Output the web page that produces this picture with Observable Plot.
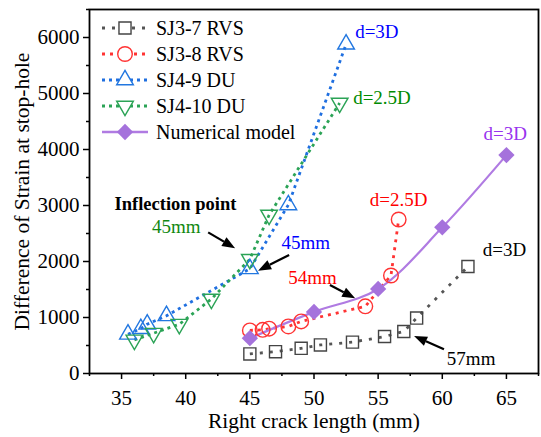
<!DOCTYPE html>
<html><head><meta charset="utf-8">
<script src="https://cdn.jsdelivr.net/npm/d3@7"></script>
<script src="https://cdn.jsdelivr.net/npm/@observablehq/plot@0.6"></script>
<style>
body{margin:0;background:#fff}
</style>
</head><body><div id="chart"></div>
<script>
// ---- data ----
const xTicks = [35, 40, 45, 50, 55, 60, 65];
const xMinor = [32.5, 37.5, 42.5, 47.5, 52.5, 57.5, 62.5, 67.5];
const yTicks = [0, 1000, 2000, 3000, 4000, 5000, 6000];
const yMinor = [500, 1500, 2500, 3500, 4500, 5500, 6500];

const seriesNames = ["SJ3-7 RVS", "SJ3-8 RVS", "SJ4-9 DU", "SJ4-10 DU", "Numerical model"];

const sj37x = [45, 47, 49, 50.5, 53, 55.5, 57, 58, 62];
const sj37y = [350, 390, 450, 510, 560, 660, 750, 990, 1910];

const sj38x = [45, 46, 46.5, 48, 49, 54, 56, 56.6];
const sj38y = [770, 780, 800, 840, 930, 1200, 1750, 2750];

const sj49x = [35.5, 36.5, 37, 38.5, 45, 48, 52.5];
const sj49y = [700, 800, 880, 1030, 1870, 3010, 5880];

const sj410x = [36, 37.5, 39.5, 42, 45, 46.5, 52];
const sj410y = [600, 720, 880, 1330, 2040, 2830, 4830];

const numx = [45, 50, 55, 60, 65];
const numy = [630, 1100, 1510, 2610, 3900];

const noteText  = ["d=3D", "d=2.5D", "d=3D", "d=2.5D", "d=3D", "45mm", "45mm", "54mm", "57mm"];
const noteX     = [54.9, 55.3, 64.9, 56.6, 64.85, 39.27, 49.36, 49.88, 62.25];
const noteY     = [6100, 4930, 4280, 3100, 2200, 2613, 2327, 1702, 262];
const noteColor = ["#0000ff", "#008a00", "#9933ee", "#ff0000", "#000000", "#118811", "#0000ff", "#ff0000", "#000000"];

const boldText = ["Inflection point"];
const boldX = [39.2];
const boldY = [3030];

const arrowX1 = [41.79, 48.1, 51.28, 60.17];
const arrowY1 = [2512, 2107, 1571, 423];
const arrowX2 = [43.89, 45.68, 53.25, 57.84];
const arrowY2 = [2227, 1827, 1334, 661];

// ---- styles ----
const FONT = "Liberation Serif";
const TICK_FS = 21;
const TITLE_FS = 21.5;
const styles = [
  {stroke: "#555555", mark: "#444444", dash: "3,7", symbol: "square", r: 6.8},
  {stroke: "#ff3333", mark: "#ff3333", dash: "3,5", symbol: "circle", r: 7.3},
  {stroke: "#1f6fe0", mark: "#2277e0", dash: "3,4", symbol: "triangle", r: 6.2},
  {stroke: "#2ba356", mark: "#2ba356", dash: "3,4", symbol: "triangle", r: 6.2, rotate: 180},
  {stroke: "#b07be2", mark: "#a572dc", dash: null, symbol: "square", r: 6.5, rotate: 45, fill: true}
];

const rows = (xs, ys) => xs.map((x, i) => ({x, y: ys[i]}));
const series = [rows(sj37x, sj37y), rows(sj38x, sj38y), rows(sj49x, sj49y), rows(sj410x, sj410y), rows(numx, numy)];
const notes = noteText.map((t, i) => ({t, x: noteX[i], y: noteY[i], c: noteColor[i]}));
const bolds = boldText.map((t, i) => ({t, x: boldX[i], y: boldY[i]}));
const arrows = arrowX1.map((x1, i) => ({x1, y1: arrowY1[i], x2: arrowX2[i], y2: arrowY2[i]}));

const marks = [];
series.forEach((d, i) => {
  const s = styles[i];
  marks.push(Plot.line(d, {x: "x", y: "y", stroke: s.stroke, strokeWidth: i === 4 ? 2.2 : 2.8,
    strokeDasharray: s.dash || undefined, strokeLinecap: "butt",
    curve: i === 4 ? "catmull-rom" : "linear"}));
});
series.forEach((d, i) => {
  const s = styles[i];
  marks.push(Plot.dot(d, {x: "x", y: "y", symbol: s.symbol, r: s.r, rotate: s.rotate || 0,
    stroke: s.fill ? "none" : s.mark, fill: s.fill ? s.mark : "none", strokeWidth: 1.4}));
});

const fmt = d => String(d);
marks.push(
  Plot.text(notes, {x: "x", y: "y", text: "t", fill: "c", fontSize: 19, fontFamily: FONT}),
  Plot.text(bolds, {x: "x", y: "y", text: "t", fill: "black", fontSize: 18.5, fontWeight: "bold", fontFamily: FONT}),
  Plot.axisX({ticks: xTicks, tickSize: 6, tickPadding: 11, fontSize: TICK_FS, fontFamily: FONT, strokeWidth: 1.5, label: null, tickFormat: fmt}),
  Plot.axisX({ticks: xMinor, tickSize: 3, strokeWidth: 1.5, label: null, tickFormat: () => ""}),
  Plot.axisY({ticks: yTicks, tickSize: 6, tickPadding: 4, fontSize: TICK_FS, fontFamily: FONT, strokeWidth: 1.5, label: null, tickFormat: fmt}),
  Plot.axisY({ticks: yMinor, tickSize: 3, strokeWidth: 1.5, label: null, tickFormat: () => ""}),
  Plot.frame({stroke: "black", strokeWidth: 1.8}),
  Plot.text(["Right crack length (mm)"], {frameAnchor: "bottom", dy: 48, lineAnchor: "middle", text: d => d, fontSize: TITLE_FS, fontFamily: FONT, fill: "black", textAnchor: "middle"}),
  Plot.text(["Difference of Strain at stop-hole"], {frameAnchor: "left", dx: -67, rotate: -90, lineAnchor: "middle", text: d => d, fontSize: TITLE_FS, fontFamily: FONT, fill: "black", textAnchor: "middle"})
);

const plot = Plot.plot({
  width: 541, height: 437,
  marginLeft: 89, marginRight: 3, marginTop: 9, marginBottom: 64,
  x: {domain: [32.5, 67.5]},
  y: {domain: [0, 6500]},
  style: {fontFamily: FONT, background: "white", overflow: "visible"},
  marks
});
document.getElementById("chart").appendChild(plot);

const svg = d3.select(plot);
svg.selectAll("text").attr("font-family", FONT).style("font-family", FONT);

// ---- arrows (filled heads) using the plot's scales ----
const sx = plot.scale("x"), sy = plot.scale("y");
const ga = svg.append("g");
arrows.forEach(a => {
  const x1 = sx.apply(a.x1), y1 = sy.apply(a.y1), x2 = sx.apply(a.x2), y2 = sy.apply(a.y2);
  const ang = Math.atan2(y2 - y1, x2 - x1);
  const L = 13, W = 5;
  const bx = x2 - L * Math.cos(ang), by = y2 - L * Math.sin(ang);
  ga.append("line").attr("x1", x1).attr("y1", y1).attr("x2", bx).attr("y2", by)
    .attr("stroke", "black").attr("stroke-width", 2.2);
  const px = -Math.sin(ang) * W, py = Math.cos(ang) * W;
  ga.append("path").attr("d", `M${x2},${y2}L${bx + px},${by + py}L${bx - px},${by - py}Z`).attr("fill", "black");
});

// ---- legend inside the frame ----
const lg = svg.append("g").attr("text-anchor", "start").attr("font-family", FONT);
const rowY = [28, 54, 80, 106, 132];
const symMap = {square: d3.symbolSquare, circle: d3.symbolCircle, triangle: d3.symbolTriangle};
seriesNames.forEach((name, i) => {
  const s = styles[i], y = rowY[i];
  lg.append("line").attr("x1", 102).attr("x2", 148).attr("y1", y).attr("y2", y)
    .attr("stroke", s.stroke).attr("stroke-width", i === 4 ? 2.4 : 2.8)
    .attr("stroke-dasharray", s.dash || null);
  const size = Math.PI * s.r * s.r;
  lg.append("path").attr("d", d3.symbol(symMap[s.symbol], size)())
    .attr("transform", `translate(125,${y}) rotate(${s.rotate || 0})`)
    .attr("fill", s.fill ? s.mark : "white").attr("stroke", s.fill ? "none" : s.mark).attr("stroke-width", 1.4);
  lg.append("text").attr("x", 156).attr("y", y).attr("dy", "0.35em").attr("text-anchor", "start")
    .attr("font-size", 20).attr("font-family", FONT).style("font-family", FONT).attr("fill", "black").text(name);
});
</script>
</body></html>
